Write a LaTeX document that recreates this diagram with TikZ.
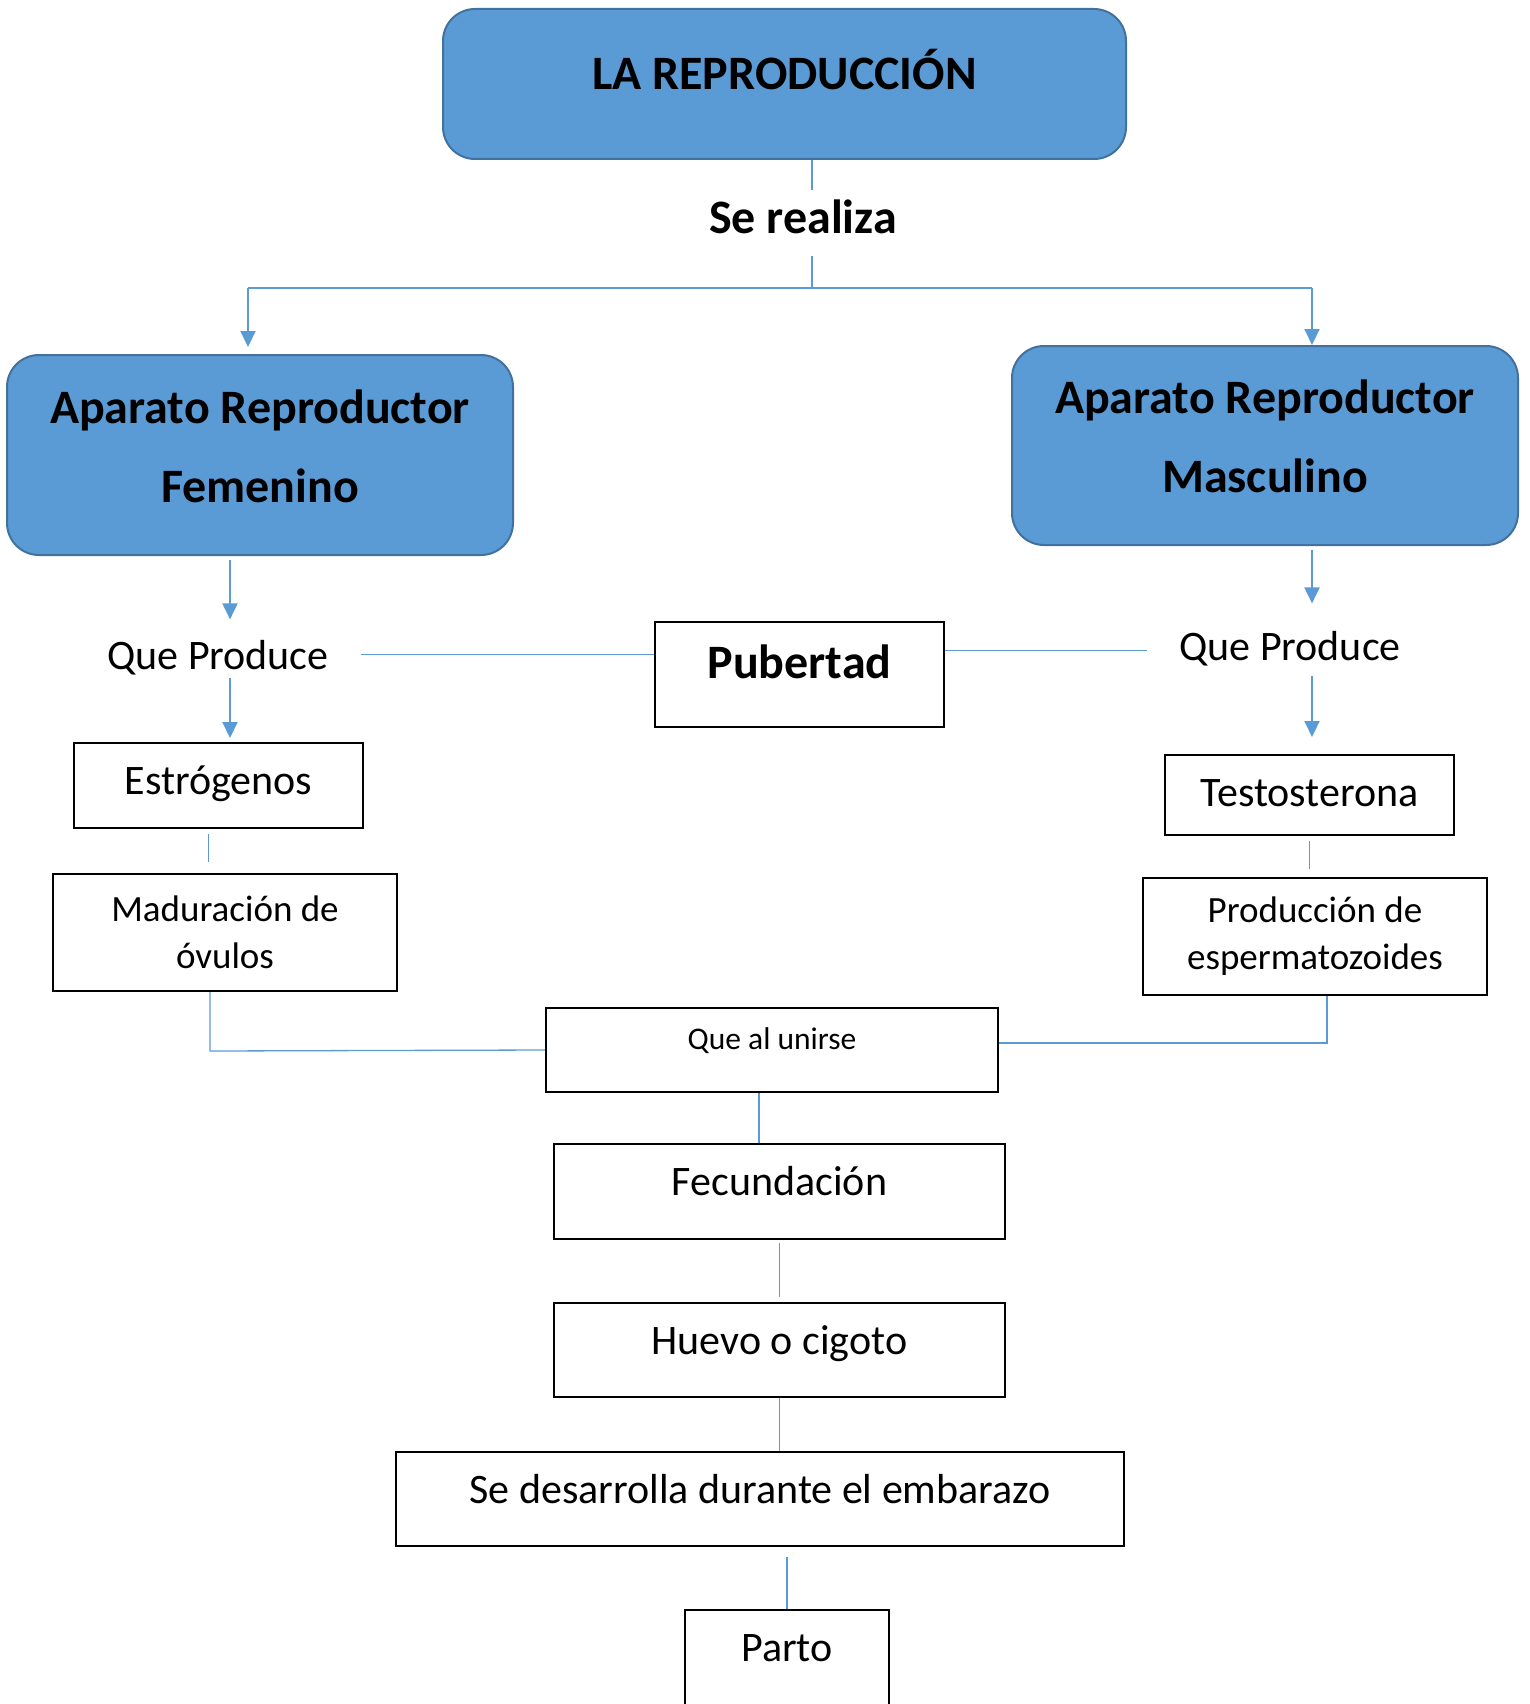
\documentclass[tikz,border=0pt]{standalone}
\usepackage{fontspec}
\setmainfont{Carlito}
\usetikzlibrary{arrows.meta}
\definecolor{azul}{HTML}{5B9BD5}
\definecolor{azulBorde}{HTML}{41719C}

\begin{document}
\begin{tikzpicture}[x=1pt,y=-1pt]

\tikzset{BlueStyle/.style={draw=azulBorde,fill=azul,line width=2pt,rounded corners=32pt,inner sep=0pt,align=center,font=\fontsize{48pt}{79pt}\selectfont\bfseries},
  BoxStyle/.style={draw=black,line width=2pt,inner sep=0pt,font=\fontsize{42pt}{50pt}\selectfont},
  TextStyle/.style={anchor=base,inner xsep=32pt,inner ysep=0pt,font=\fontsize{42pt}{50pt}\selectfont},
  LinkStyle/.style={draw=azul,line width=1.3pt},
  ArrowStyle/.style={draw=azul,line width=2pt,-{Triangle[width=15pt,length=16pt]}}}

  \useasboundingbox (0,0) rectangle (1529,1704);

  \node[BlueStyle,minimum width=683pt,minimum height=150pt,text height=38pt,text depth=27pt] (titulo) at (784.5,84) {LA REPRODUCCIÓN};
  \node[anchor=base,inner sep=0pt,text height=44pt,text depth=22pt,font=\fontsize{48pt}{58pt}\selectfont\bfseries] (serealiza) at (803,234) {Se realiza};

  % la segunda linea lleva un soporte para subir el texto
  \node[BlueStyle,minimum width=506pt,minimum height=200pt] (fem) at (260,455) {Aparato Reproductor\\Femenino\rule[-18pt]{0pt}{0pt}};
  \node[BlueStyle,minimum width=506pt,minimum height=199pt] (masc) at (1265,445.5) {Aparato Reproductor\\Masculino\rule[-18pt]{0pt}{0pt}};

  \node[TextStyle,text height=50pt,text depth=8pt] (queL) at (218,669.6) {Que Produce};
  \node[TextStyle,text height=57pt,text depth=15pt] (queR) at (1290,660.6) {Que Produce};
  \node[BoxStyle,minimum width=289pt,minimum height=105pt,text height=38pt,text depth=30pt,font=\fontsize{48pt}{58pt}\selectfont\bfseries] (pub) at (799.5,674.5) {Pubertad};

  \node[BoxStyle,minimum width=289pt,minimum height=85pt,text height=34pt,text depth=16pt] (estr) at (218.5,785.5) {Estrógenos};
  \node[BoxStyle,minimum width=289pt,minimum height=80pt,text height=34pt,text depth=11pt] (testo) at (1309.5,795) {Testosterona};
  \node[BoxStyle,align=center,minimum width=344pt,minimum height=117pt,font=\fontsize{37pt}{47pt}\selectfont] (madur) at (225,932.5) {Maduración de\\óvulos};
  \node[BoxStyle,align=center,minimum width=344pt,minimum height=117pt,font=\fontsize{37pt}{47pt}\selectfont] (prod) at (1315,936.5) {Producción de\\espermatozoides};

  \node[BoxStyle,minimum width=452pt,minimum height=84pt,text height=26pt,text depth=27pt,font=\fontsize{31.5pt}{38pt}\selectfont] (union) at (772,1050) {Que al unirse};
  \node[BoxStyle,minimum width=451pt,minimum height=95pt,text height=34pt,text depth=26pt] (fec) at (779.5,1191.5) {Fecundación};
  \node[BoxStyle,minimum width=451pt,minimum height=94pt,text height=34pt,text depth=25pt] (huevo) at (779.5,1350) {Huevo o cigoto};
  \node[BoxStyle,minimum width=728pt,minimum height=94pt,text height=34pt,text depth=25pt] (des) at (760,1499) {Se desarrolla durante el embarazo};
  \node[BoxStyle,minimum width=204pt,minimum height=110pt,text height=34pt,text depth=41pt] (parto) at (787,1665) {Parto};

  \coordinate (bus) at (812,288);
  \coordinate (busL) at (248,288);
  \coordinate (busR) at (1312,288);
  \coordinate (ejeL) at (230,0);
  \coordinate (pubL) at ([yshift=20pt]pub.west);
  \coordinate (pubR) at ([yshift=24pt]pub.east);
  \coordinate (juntaL) at (210,1051);
  \coordinate (juntaR) at (1327,1043);

  \draw[LinkStyle] (titulo.south -| bus) -- (serealiza.north -| bus);
  \draw[LinkStyle] (serealiza.south -| bus) -- (bus);
  \draw[LinkStyle] (busL) -- (busR);
  \draw[ArrowStyle,shorten >=7pt] (busL) -- (busL |- fem.north);
  \draw[ArrowStyle] (busR) -- (busR |- masc.north);

  \draw[ArrowStyle,shorten <=4pt] (fem.south -| ejeL) -- (queL.north -| ejeL);
  \draw[ArrowStyle,shorten >=4pt] (queL.south -| ejeL) -- (estr.north -| ejeL);
  \draw[ArrowStyle,shorten <=4pt] (masc.south -| busR) -- (queR.north -| busR);
  \draw[ArrowStyle,shorten >=17pt] (queR.south -| busR) -- (testo.north -| busR);
  \draw[LinkStyle] (pubL -| queL.east) -- (pubL);
  \draw[LinkStyle] (pubR) -- (pubR -| queR.west);

  \draw[LinkStyle,shorten <=5pt,shorten >=11pt] ([xshift=-10pt]estr.south) -- ([xshift=-10pt]estr.south |- madur.north);
  \draw[LinkStyle,shorten <=5pt,shorten >=8pt] (testo.south) -- (testo.south |- prod.north);
  \draw[LinkStyle] (madur.south -| juntaL) -- (juntaL) -- (union.west);
  \draw[LinkStyle] (prod.south -| juntaR) -- (juntaR) -- (juntaR -| union.east);

  \draw[LinkStyle] ([xshift=-13pt]union.south) -- ([xshift=-13pt]union.south |- fec.north);
  \draw[LinkStyle,shorten <=3pt,shorten >=5pt] (fec.south) -- (fec.south |- huevo.north);
  \draw[LinkStyle] (huevo.south) -- (huevo.south |- des.north);
  \draw[LinkStyle,shorten <=10pt] (parto.north |- des.south) -- (parto.north);

\end{tikzpicture}
\end{document}
